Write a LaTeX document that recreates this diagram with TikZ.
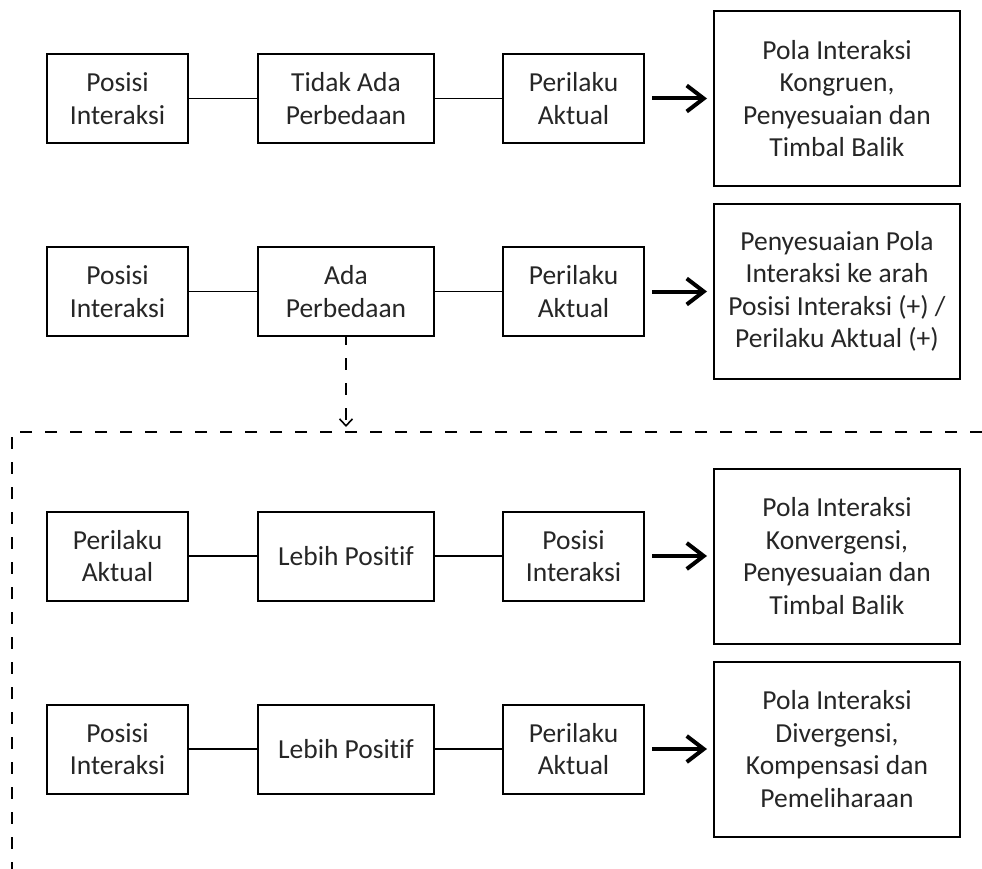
\documentclass[tikz,border=0pt]{standalone}
\usepackage{fontspec}
\setmainfont[Ligatures=CommonOff]{Carlito}
\usetikzlibrary{arrows.meta,calc,positioning}

\begin{document}
\begin{tikzpicture}[x=1pt, y=-1pt,
    box/.style={draw, line width=2pt, align=center, inner sep=0pt, text=black!85,
        font=\fontsize{27.5}{32.5}\selectfont, minimum height=89pt},
    small/.style={box, minimum width=141pt},
    mid/.style={box, minimum width=176pt},
    big/.style={box, minimum width=246pt, minimum height=175pt},
    link/.style={line width=1.8pt},
    res/.style={line width=4pt, -{Straight Barb[length=17pt, width=26pt, line width=4pt]}},
    dashline/.style={line width=2pt, dash pattern=on 12pt off 13pt}]
    \useasboundingbox (0, 0) rectangle (982, 869);

    % baris 1
    \node[small] (pos1) at (117.5, 98.5) {Posisi\\Interaksi};
    \node[mid] (beda1) at (346, 98.5) {Tidak Ada\\Perbedaan};
    \node[small] (akt1) at (573.5, 98.5) {Perilaku\\Aktual};
    \node[big] (pola1) at (837, 98.5) {Pola Interaksi\\Kongruen,\\Penyesuaian dan\\Timbal Balik};
    \draw[link] (pos1) -- (beda1);
    \draw[link] (beda1) -- (akt1);
    \draw[res] ($(akt1.east) + (7, 0)$) -- ($(pola1.west) + (-6, 0)$);

    % baris 2
    \node[small] (pos2) at (117.5, 291.5) {Posisi\\Interaksi};
    \node[mid] (beda2) at (346, 291.5) {Ada\\Perbedaan};
    \node[small] (akt2) at (573.5, 291.5) {Perilaku\\Aktual};
    \node[big] (pola2) at (837, 291.5) {Penyesuaian Pola\\Interaksi ke arah\\Posisi Interaksi (+) /\\Perilaku Aktual (+)};
    \draw[link] (pos2) -- (beda2);
    \draw[link] (beda2) -- (akt2);
    \draw[res] ($(akt2.east) + (7, 0)$) -- ($(pola2.west) + (-6, 0)$);

    % kotak putus-putus
    \coordinate (sudut) at (12, 432);
    \coordinate (kanan) at (982, 432);
    \coordinate (bawah) at (12, 869);
    \draw[dashline] (kanan) -- (sudut) -- (bawah);
    \draw[dashline, -{Straight Barb[length=7pt, width=13pt, line width=1.6pt]}, dash phase=4pt]
        (beda2.south) -- ($(beda2.south |- sudut) + (0, -5)$) coordinate (ujung);

    % baris 3
    \node[small] (akt3) at (117.5, 556) {Perilaku\\Aktual};
    \node[mid] (lebih3) at (346, 556) {Lebih Positif};
    \node[small] (pos3) at (573.5, 556) {Posisi\\Interaksi};
    \node[big] (pola3) at (837, 556) {Pola Interaksi\\Konvergensi,\\Penyesuaian dan\\Timbal Balik};
    \draw[link] (akt3) -- (lebih3);
    \draw[link] (lebih3) -- (pos3);
    \draw[res] ($(pos3.east) + (7, 0)$) -- ($(pola3.west) + (-6, 0)$);

    % baris 4
    \node[small] (pos4) at (117.5, 749) {Posisi\\Interaksi};
    \node[mid] (lebih4) at (346, 749) {Lebih Positif};
    \node[small] (akt4) at (573.5, 749) {Perilaku\\Aktual};
    \node[big] (pola4) at (837, 749) {Pola Interaksi\\Divergensi,\\Kompensasi dan\\Pemeliharaan};
    \draw[link] (pos4) -- (lebih4);
    \draw[link] (lebih4) -- (akt4);
    \draw[res] ($(akt4.east) + (7, 0)$) -- ($(pola4.west) + (-6, 0)$);
\end{tikzpicture}
\end{document}
